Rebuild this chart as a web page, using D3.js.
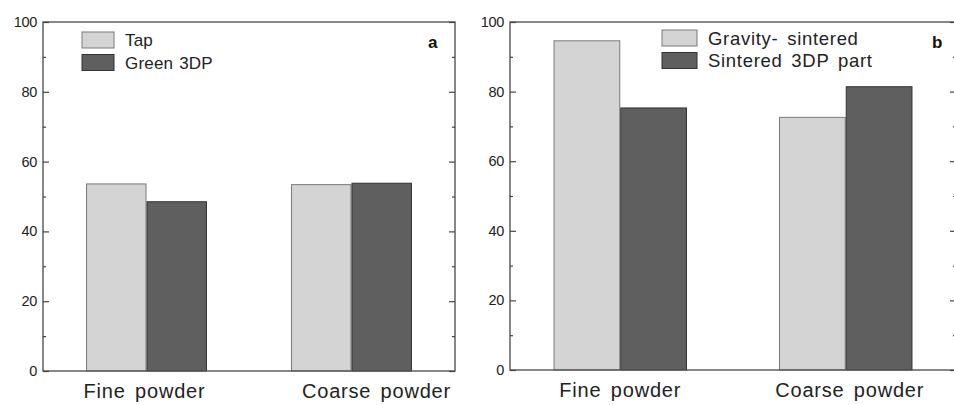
<!DOCTYPE html>
<html>
<head>
<meta charset="utf-8">
<script src="https://cdn.jsdelivr.net/npm/d3@7"></script>
<style>
  body { margin: 0; background: #fff; }
  svg { display: block; font-family: "Liberation Sans", Arial, sans-serif; }
</style>
</head>
<body>
<div id="chart"></div>
<script>
// data
const categories = ["Fine powder", "Coarse powder"];
const seriesA = ["Tap", "Green 3DP"];
const valuesA = [[53.6, 48.5], [53.4, 53.8]];
const seriesB = ["Gravity- sintered", "Sintered 3DP part"];
const valuesB = [[94.6, 75.3], [72.6, 81.4]];
const yTicks = [0, 20, 40, 60, 80, 100];
const yMinorTicks = [10, 30, 50, 70, 90];

const fills = ["#d4d4d4", "#5f5f5f"];
const strokes = ["#7a7a7a", "#333"];

let svg = d3.select("#chart").append("svg")
    .attr("width", 954)
    .attr("height", 405);

function drawPanel(p) {
    let y = d3.scaleLinear().domain([0, 100]).range([p.bottom, p.top]);

    let x0 = d3.scaleBand()
        .domain(categories)
        .range([p.left, p.right])
        .paddingInner(p.padInner)
        .paddingOuter(p.padOuter);

    let x1 = d3.scaleBand()
        .domain(p.series)
        .range([0, x0.bandwidth()]);

    let g = svg.append("g");

    // bars
    let grp = g.selectAll(".grp")
        .data(categories)
        .enter()
        .append("g")
        .attr("transform", function (d) { return "translate(" + x0(d) + ",0)"; });

    grp.selectAll("rect")
        .data(function (d, i) {
            return p.series.map(function (s, j) { return {s: s, j: j, v: p.values[i][j]}; });
        })
        .enter()
        .append("rect")
        .attr("x", function (d) { return x1(d.s) + 0.5; })
        .attr("width", x1.bandwidth() - 1)
        .attr("y", function (d) { return y(d.v); })
        .attr("height", function (d) { return y(0) - y(d.v); })
        .attr("fill", function (d) { return fills[d.j]; })
        .attr("stroke", function (d) { return strokes[d.j]; })
        .attr("stroke-width", 1);

    // frame
    g.append("rect")
        .attr("x", p.left).attr("y", p.top)
        .attr("width", p.right - p.left).attr("height", p.bottom - p.top)
        .attr("fill", "none").attr("stroke", "#555").attr("stroke-width", 1.4);

    // ticks, inward on both sides
    let leftAxis = d3.axisRight(y).tickValues(yTicks).tickSize(6).tickFormat("");
    let rightAxis = d3.axisLeft(y).tickValues(yTicks).tickSize(6).tickFormat("");
    let leftMinor = d3.axisRight(y).tickValues(yMinorTicks).tickSize(3).tickFormat("");
    let rightMinor = d3.axisLeft(y).tickValues(yMinorTicks).tickSize(3).tickFormat("");

    [[leftAxis, p.left], [leftMinor, p.left], [rightAxis, p.right], [rightMinor, p.right]].forEach(function (a) {
        let ax = g.append("g")
            .attr("transform", "translate(" + a[1] + ",0)")
            .call(a[0]);
        ax.select(".domain").remove();
        ax.selectAll("line").attr("stroke", "#444").attr("stroke-width", 1.2);
    });

    // tick labels
    g.selectAll(".ylab")
        .data(yTicks)
        .enter()
        .append("text")
        .attr("x", p.left - 6)
        .attr("y", function (d) { return y(d); })
        .attr("dy", "0.35em")
        .attr("text-anchor", "end")
        .style("font-size", "14.5px")
        .style("letter-spacing", "-0.3px")
        .style("fill", "#222")
        .text(function (d) { return d; });

    // category labels
    g.selectAll(".xlab")
        .data(categories)
        .enter()
        .append("text")
        .attr("x", function (d, i) { return x0(d) + x0.bandwidth() / 2 + p.labelShift[i]; })
        .attr("y", p.bottom + 27)
        .attr("text-anchor", "middle")
        .style("font-size", "20px")
        .style("letter-spacing", "0.8px")
        .style("word-spacing", "3px")
        .style("fill", "#222")
        .text(function (d) { return d; });

    // legend
    let leg = g.selectAll(".leg")
        .data(p.series)
        .enter()
        .append("g")
        .attr("transform", function (d, i) { return "translate(" + p.legX + "," + (p.legY + i * 22.5) + ")"; });

    leg.append("rect")
        .attr("width", p.legW).attr("height", 16)
        .attr("fill", function (d, i) { return fills[i]; })
        .attr("stroke", function (d, i) { return strokes[i]; });

    leg.append("text")
        .attr("x", p.legW + 11)
        .attr("y", 8)
        .attr("dy", "0.36em")
        .style("font-size", p.legFont)
        .style("letter-spacing", p.legSpacing)
        .style("word-spacing", p.legWord)
        .style("fill", "#222")
        .text(function (d) { return d; });

    // panel letter
    g.append("text")
        .attr("x", p.letterX)
        .attr("y", 48)
        .style("font-size", "17px")
        .style("font-weight", "bold")
        .style("fill", "#111")
        .text(p.letter);
}

drawPanel({
    left: 43, right: 455, top: 22, bottom: 371,
    padInner: 0.41, padOuter: 0.21,
    series: seriesA, values: valuesA,
    labelShift: [-2, 25],
    legX: 82, legY: 32, legW: 32,
    legFont: "17px", legSpacing: "0.2px", legWord: "1px",
    letter: "a", letterX: 428
});

drawPanel({
    left: 510, right: 956, top: 22, bottom: 370,
    padInner: 0.408, padOuter: 0.193,
    series: seriesB, values: valuesB,
    labelShift: [0, 4],
    legX: 662, legY: 30, legW: 35,
    legFont: "18.5px", legSpacing: "0.7px", legWord: "3px",
    letter: "b", letterX: 932
});
</script>
</body>
</html>
